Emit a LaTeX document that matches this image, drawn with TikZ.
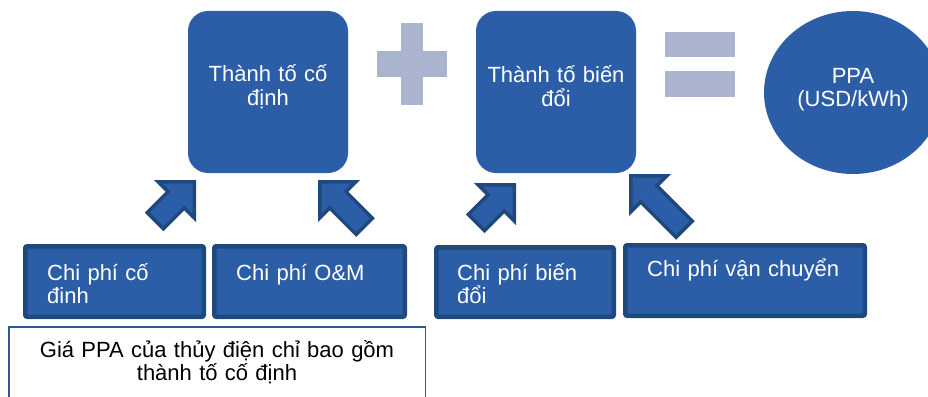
\documentclass[tikz,border=0pt]{standalone}
\usepackage{fontspec}
\setmainfont{Liberation Sans}
\usetikzlibrary{positioning, shapes.geometric, shapes.arrows}
\definecolor{boxblue}{RGB}{43,94,166}
\definecolor{edgeblue}{RGB}{31,73,125}
\definecolor{signgray}{RGB}{170,180,207}
\definecolor{noteblue}{RGB}{47,85,151}

\begin{document}
\begin{tikzpicture}[x=1pt, y=-1pt, font=\fontsize{22}{23.5}\selectfont]
\tikzstyle{factor}=[rectangle, fill=boxblue, rounded corners=20pt,
  minimum width=160pt, minimum height=162pt, inner sep=0pt]
\tikzstyle{cost}=[rectangle, draw=edgeblue, fill=boxblue, line width=4.5pt,
  rounded corners=2pt, minimum height=70.5pt, inner sep=0pt]
\tikzstyle{whitetext}=[text=white, inner sep=0pt]
\tikzstyle{push}=[single arrow, draw=edgeblue, fill=boxblue, line width=3.5pt,
  single arrow head extend=14pt, minimum width=47.5pt, inner sep=9.75pt,
  anchor=tip]
\tikzstyle{sign}=[fill=signgray]

\useasboundingbox (0,0) rectangle (928,396);

\node (fixed) [factor] at (268,92) {};
\node (variable) [factor] at (556,92) {};
\node (ppa) [ellipse, fill=boxblue, minimum width=178pt, minimum height=163pt,
  inner sep=0pt] at (853,92.5) {};

\node (fixedtxt) [whitetext, text width=160pt, align=center, anchor=base]
  at ([yshift=-71pt]fixed.north) {Thành tố cố\\định};
\node (variabletxt) [whitetext, text width=160pt, align=center, anchor=base]
  at ([yshift=-72pt]variable.north) {Thành tố biến\\đổi};
\node (ppatxt) [whitetext, text width=160pt, align=center, anchor=base]
  at (853,83) {PPA\\(USD/kWh)};

\fill [sign] (401,23) rectangle (423,105);
\fill [sign] (377,51) rectangle (447,77);
\fill [sign] (665,32) rectangle (735,57);
\fill [sign] (665,71) rectangle (735,97);

\node (capex) [cost, minimum width=178.5pt] at (114.5,281.5) {};
\node (om) [cost, minimum width=190.5pt] at (309.5,281.5) {};
\node (varcost) [cost, minimum width=177.5pt, minimum height=69.5pt] at (525,282) {};
\node (transport) [cost, minimum width=239.5pt] at (745,280.5) {};

\node (capextxt) [whitetext, text width=150pt, align=left, anchor=base west]
  at ([xshift=24pt, yshift=-36pt]capex.north west) {Chi phí cố\\đinh};
\node (omtxt) [whitetext, text width=160pt, align=left, anchor=base west]
  at ([xshift=24pt, yshift=-36pt]om.north west) {Chi phí O\&M};
\node (varcosttxt) [whitetext, text width=150pt, align=left, anchor=base west]
  at ([xshift=23pt, yshift=-35pt]varcost.north west) {Chi phí biến\\đổi};
\node (transporttxt) [whitetext, text width=210pt, align=left, anchor=base west]
  at ([xshift=24pt, yshift=-33pt]transport.north west) {Chi phí vận chuyển};

\node (up1) [push, rotate=45, minimum height=55pt] at (196,180) {};
\node (up2) [push, rotate=135, minimum height=63pt] at (318,180) {};
\node (up3) [push, rotate=45, minimum height=53.5pt] at (516,183) {};
\node (up4) [push, rotate=135, minimum height=75.5pt] at (629,174) {};

\node (note) [rectangle, draw=noteblue, line width=1.5pt, minimum width=416.5pt,
  minimum height=80pt, inner sep=0pt] at (217,367) {};
\node (notetxt) [text width=410pt, align=center, anchor=base, inner sep=0pt]
  at ([yshift=-31pt]note.north) {Giá PPA của thủy điện chỉ bao gồm\\thành tố cố định};
\end{tikzpicture}
\end{document}
